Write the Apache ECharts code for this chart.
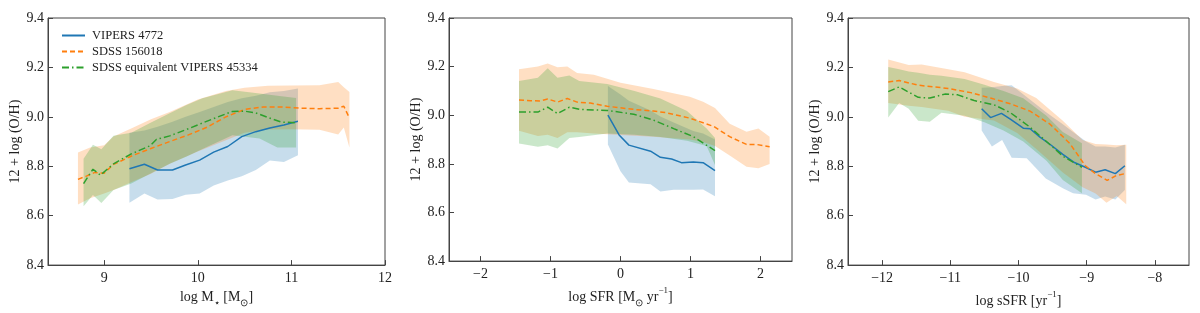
<!DOCTYPE html>
<html><head><meta charset="utf-8">
<script src="https://cdn.jsdelivr.net/npm/echarts@6/dist/echarts.min.js"></script>
<style>html,body{margin:0;padding:0;background:#fff}#c{width:1200px;height:313px}</style>
</head><body><div id="c"></div>
<script>
// ---------- tick labels ----------
const yTicks = [8.4, 8.6, 8.8, 9.0, 9.2, 9.4];
const massTicks = [9, 10, 11, 12];
const sfrTicks = [-2, -1, 0, 1, 2];
const ssfrTicks = [-12, -11, -10, -9, -8];
const legendNames = ['VIPERS 4772', 'SDSS 156018', 'SDSS equivalent VIPERS 45334'];

// ---------- Panel 1: stellar mass ----------
const massBlueX = [9.27, 9.43, 9.57, 9.73, 9.87, 10.02, 10.17, 10.32, 10.47, 10.62, 10.77, 10.92, 11.07];
const massBlueY = [8.79, 8.808, 8.785, 8.785, 8.805, 8.825, 8.857, 8.88, 8.92, 8.94, 8.955, 8.967, 8.982];
const massBlueBandX = [9.27, 9.43, 9.57, 9.73, 9.87, 10.02, 10.17, 10.32, 10.47, 10.62, 10.77, 10.92, 11.07];
const massBlueHi = [8.936, 8.945, 8.96, 8.98, 9.0, 9.02, 9.04, 9.06, 9.075, 9.085, 9.1, 9.105, 9.115];
const massBlueLo = [8.652, 8.69, 8.665, 8.668, 8.685, 8.69, 8.722, 8.742, 8.76, 8.785, 8.823, 8.817, 8.845];

const massOrangeX = [8.72, 8.81, 8.9, 9.0, 9.1, 9.2, 9.3, 9.5, 9.7, 9.9, 10.1, 10.3, 10.5, 10.7, 10.9, 11.1, 11.3, 11.5, 11.56, 11.62];
const massOrangeY = [8.747, 8.76, 8.775, 8.772, 8.808, 8.825, 8.843, 8.872, 8.9, 8.927, 8.958, 9.0, 9.03, 9.04, 9.04, 9.035, 9.033, 9.035, 9.043, 8.995];
const massOrangeBandX = [8.72, 8.85, 9.0, 9.1, 9.3, 9.5, 9.7, 10.0, 10.3, 10.5, 10.75, 11.0, 11.3, 11.5, 11.56, 11.62];
const massOrangeHi = [8.856, 8.876, 8.885, 8.92, 8.955, 8.99, 9.02, 9.07, 9.105, 9.118, 9.126, 9.127, 9.128, 9.141, 9.12, 9.101];
const massOrangeLo = [8.645, 8.671, 8.69, 8.704, 8.737, 8.77, 8.81, 8.86, 8.905, 8.936, 8.949, 8.95, 8.948, 8.929, 8.957, 8.876];

const massGreenX = [8.78, 8.88, 8.96, 9.1, 9.29, 9.49, 9.56, 9.7, 9.88, 10.05, 10.23, 10.37, 10.5, 10.62, 10.76, 10.89, 11.05];
const massGreenY = [8.73, 8.788, 8.764, 8.81, 8.85, 8.883, 8.909, 8.923, 8.949, 8.975, 9.002, 9.022, 9.023, 9.016, 8.996, 8.979, 8.976];
const massGreenBandX = [8.78, 8.88, 8.97, 9.1, 9.29, 9.49, 9.7, 9.88, 10.05, 10.37, 10.66, 10.85, 11.05];
const massGreenHi = [8.83, 8.887, 8.869, 8.923, 8.936, 8.975, 9.015, 9.048, 9.075, 9.108, 9.094, 9.085, 9.076];
const massGreenLo = [8.638, 8.684, 8.651, 8.704, 8.73, 8.77, 8.81, 8.84, 8.87, 8.925, 8.912, 8.876, 8.876];

// ---------- Panel 2: SFR ----------
const sfrBlueX = [-0.18, -0.02, 0.12, 0.43, 0.57, 0.73, 0.87, 1.04, 1.18, 1.35];
const sfrBlueY = [9.0, 8.919, 8.877, 8.852, 8.827, 8.82, 8.805, 8.808, 8.805, 8.772];
const sfrBlueBandX = [-0.18, 0, 0.12, 0.43, 0.57, 0.76, 1.04, 1.18, 1.35];
const sfrBlueHi = [9.12, 9.085, 9.06, 9.02, 8.995, 8.97, 8.935, 8.925, 8.9];
const sfrBlueLo = [8.88, 8.77, 8.723, 8.716, 8.686, 8.693, 8.693, 8.695, 8.667];

const sfrOrangeX = [-1.45, -1.28, -1.14, -1.04, -0.9, -0.76, -0.62, -0.43, -0.19, 0.19, 0.47, 0.66, 0.99, 1.33, 1.56, 1.8, 1.94, 2.13];
const sfrOrangeY = [9.063, 9.06, 9.059, 9.067, 9.054, 9.069, 9.054, 9.05, 9.037, 9.024, 9.017, 9.01, 8.988, 8.954, 8.912, 8.88, 8.88, 8.87];
const sfrOrangeBandX = [-1.45, -1.18, -1.04, -0.9, -0.76, -0.62, -0.38, 0, 0.47, 0.99, 1.18, 1.35, 1.56, 1.8, 1.97, 2.13];
const sfrOrangeHi = [9.189, 9.2, 9.213, 9.197, 9.2, 9.174, 9.167, 9.134, 9.108, 9.076, 9.056, 9.03, 8.965, 8.932, 8.945, 8.912];
const sfrOrangeLo = [8.936, 8.915, 8.92, 8.906, 8.93, 8.93, 8.925, 8.919, 8.912, 8.9, 8.89, 8.873, 8.834, 8.788, 8.782, 8.799];

const sfrGreenX = [-1.45, -1.18, -1.04, -0.9, -0.73, -0.57, -0.19, 0.19, 0.47, 0.76, 1.04, 1.35];
const sfrGreenY = [9.013, 9.013, 9.033, 9.007, 9.033, 9.024, 9.02, 9.004, 8.98, 8.945, 8.912, 8.854];
const sfrGreenBandX = [-1.45, -1.18, -1.04, -0.9, -0.73, -0.59, -0.19, 0.2, 0.57, 0.95, 1.23, 1.35];
const sfrGreenHi = [9.141, 9.154, 9.193, 9.154, 9.163, 9.141, 9.128, 9.1, 9.069, 9.017, 8.945, 8.906];
const sfrGreenLo = [8.884, 8.87, 8.877, 8.863, 8.906, 8.91, 8.925, 8.92, 8.91, 8.895, 8.873, 8.795];

// ---------- Panel 3: sSFR ----------
const ssfrBlueX = [-10.54, -10.41, -10.25, -10.12, -9.93, -9.83, -9.69, -9.52, -9.35, -9.18, -9.02, -8.87, -8.73, -8.58, -8.44];
const ssfrBlueY = [9.033, 8.997, 9.014, 8.991, 8.954, 8.952, 8.919, 8.885, 8.848, 8.815, 8.796, 8.776, 8.786, 8.77, 8.802];
const ssfrBlueBandX = [-10.54, -10.39, -10.24, -10.1, -9.88, -9.6, -9.35, -9.2, -9.01, -8.87, -8.73, -8.58, -8.44];
const ssfrBlueHi = [9.118, 9.12, 9.125, 9.128, 9.08, 9.02, 8.97, 8.939, 8.9, 8.88, 8.88, 8.876, 8.887];
const ssfrBlueLo = [8.945, 8.88, 8.906, 8.834, 8.832, 8.75, 8.711, 8.691, 8.685, 8.665, 8.678, 8.665, 8.704];

const ssfrOrangeX = [-11.91, -11.75, -11.47, -11.03, -10.7, -10.41, -10.12, -9.83, -9.54, -9.25, -9.02, -8.87, -8.7, -8.56, -8.44];
const ssfrOrangeY = [9.141, 9.147, 9.128, 9.115, 9.098, 9.076, 9.053, 9.023, 8.971, 8.893, 8.802, 8.77, 8.743, 8.763, 8.77];
const ssfrOrangeBandX = [-11.91, -11.61, -11.42, -11.03, -10.79, -10.36, -10.02, -9.74, -9.35, -9.06, -8.87, -8.71, -8.56, -8.42];
const ssfrOrangeHi = [9.232, 9.21, 9.212, 9.193, 9.18, 9.141, 9.115, 9.076, 8.984, 8.906, 8.89, 8.888, 8.885, 8.887];
const ssfrOrangeLo = [9.056, 9.045, 9.04, 9.025, 9.0, 8.985, 8.935, 8.87, 8.775, 8.715, 8.69, 8.652, 8.68, 8.646];

const ssfrGreenX = [-11.91, -11.75, -11.47, -11.3, -11.08, -10.89, -10.65, -10.36, -10.12, -9.83, -9.59, -9.35, -9.07];
const ssfrGreenY = [9.102, 9.121, 9.079, 9.076, 9.092, 9.089, 9.066, 9.049, 9.017, 8.958, 8.9, 8.841, 8.796];
const ssfrGreenBandX = [-11.91, -11.75, -11.61, -11.47, -11.3, -11.13, -10.79, -10.5, -10.22, -9.93, -9.59, -9.35, -9.07];
const ssfrGreenHi = [9.202, 9.193, 9.183, 9.178, 9.17, 9.166, 9.153, 9.13, 9.105, 9.075, 9.004, 8.939, 8.893];
const ssfrGreenLo = [8.997, 9.056, 9.033, 8.984, 8.98, 9.017, 9.004, 8.978, 8.945, 8.9, 8.822, 8.744, 8.691];

// ---------- styling ----------
const FONT = 'Liberation Serif';
const TXT = '#222';
const C_BLUE = '#1f77b4', C_ORANGE = '#ff7f0e', C_GREEN = '#2ca02c';
const F_BLUE = 'rgba(31,119,180,0.25)', F_ORANGE = 'rgba(255,127,14,0.25)', F_GREEN = 'rgba(44,160,44,0.25)';
const DASH = [5, 3];
const DASHDOT = [7, 3, 1.5, 3];

const fmtNum = v => (v < 0 ? '\u2212' + Math.abs(v) : String(v));

function band(idx, xs, lo, hi, fill) {
  return {
    type: 'custom', xAxisIndex: idx, yAxisIndex: idx, silent: true, z: 1,
    data: xs.map((x, i) => [x, lo[i], hi[i]]),
    encode: { x: 0, y: [1, 2] },
    renderItem: function (params, api) {
      if (params.dataIndex !== 0) return null;
      const pts = [];
      for (let i = 0; i < xs.length; i++) pts.push(api.coord([xs[i], hi[i]]));
      for (let i = xs.length - 1; i >= 0; i--) pts.push(api.coord([xs[i], lo[i]]));
      return { type: 'polygon', shape: { points: pts }, style: { fill: fill } };
    }
  };
}
function line(idx, name, xs, ys, color, type) {
  return {
    type: 'line', name: name, xAxisIndex: idx, yAxisIndex: idx, z: 5,
    data: xs.map((x, i) => [x, ys[i]]),
    symbol: 'none', showSymbol: false, smooth: false,
    lineStyle: { color: color, width: 1.5, type: type },
    itemStyle: { color: color }
  };
}

const grids = [
  { left: 48, top: 18, width: 337, height: 252 },
  { left: 449, top: 18, width: 343, height: 252 },
  { left: 848, top: 18, width: 341, height: 252 }
].map(g => Object.assign(g, { show: true, borderColor: '#444', borderWidth: 1, backgroundColor: 'transparent', containLabel: false }));

const richBase = {
  n: { fontFamily: FONT, fontSize: 14, color: TXT, lineHeight: 16 },
  s: { fontFamily: FONT, fontSize: 10, color: TXT, verticalAlign: 'bottom', lineHeight: 10, padding: [0, 0, -3, 0] },
  p: { fontFamily: FONT, fontSize: 9, color: TXT, verticalAlign: 'top', lineHeight: 10, padding: [-3, 0, 0, 0] }
};

function xAxis(idx, min, max, ticks, name) {
  return {
    type: 'value', gridIndex: idx, min: min, max: max,
    name: name, nameLocation: 'middle', nameGap: 13,
    nameTextStyle: { fontFamily: FONT, fontSize: 14, color: TXT, rich: richBase },
    axisLine: { show: true, onZero: false, lineStyle: { color: '#444', width: 1 } },
    axisTick: { show: true, inside: true, length: 5, customValues: ticks, lineStyle: { color: '#444' } },
    axisLabel: { customValues: ticks, margin: 6, fontFamily: FONT, fontSize: 14, color: TXT, formatter: fmtNum },
    splitLine: { show: false }
  };
}
function yAxis(idx) {
  return {
    type: 'value', gridIndex: idx, min: 8.4, max: 9.4,
    name: '12 + log (O/H)', nameLocation: 'middle', nameGap: 26, nameRotate: 90,
    nameTextStyle: { fontFamily: FONT, fontSize: 14, color: TXT },
    axisLine: { show: true, onZero: false, lineStyle: { color: '#444', width: 1 } },
    axisTick: { show: true, inside: true, length: 5, customValues: yTicks, lineStyle: { color: '#444' } },
    axisLabel: { customValues: yTicks, margin: 4, fontFamily: FONT, fontSize: 14, color: TXT, formatter: v => v.toFixed(1) },
    splitLine: { show: false }
  };
}

const option = {
  animation: false,
  backgroundColor: '#fff',
  grid: grids,
  xAxis: [
    xAxis(0, 8.4, 12, massTicks, '{n|log M}{s|\u22C6}{n| [M}{s|\u2299}{n|]}'),
    xAxis(1, -2.45, 2.45, sfrTicks, '{n|log SFR [M}{s|\u2299}{n| yr}{p|\u22121}{n|]}'),
    xAxis(2, -12.5, -7.5, ssfrTicks, '{n|log sSFR [yr}{p|\u22121}{n|]}')
  ],
  yAxis: [yAxis(0), yAxis(1), yAxis(2)],
  legend: {
    data: legendNames, orient: 'vertical', left: 56, top: 24,
    itemWidth: 23, itemHeight: 10, itemGap: 3,
    itemStyle: { opacity: 0 },
    textStyle: { fontFamily: FONT, fontSize: 12.5, color: TXT, padding: [0, 0, 0, 2] },
    selectedMode: false
  },
  series: [
    band(0, massBlueBandX, massBlueLo, massBlueHi, F_BLUE),
    band(0, massOrangeBandX, massOrangeLo, massOrangeHi, F_ORANGE),
    band(0, massGreenBandX, massGreenLo, massGreenHi, F_GREEN),
    line(0, legendNames[0], massBlueX, massBlueY, C_BLUE, 'solid'),
    line(0, legendNames[1], massOrangeX, massOrangeY, C_ORANGE, DASH),
    line(0, legendNames[2], massGreenX, massGreenY, C_GREEN, DASHDOT),

    band(1, sfrBlueBandX, sfrBlueLo, sfrBlueHi, F_BLUE),
    band(1, sfrOrangeBandX, sfrOrangeLo, sfrOrangeHi, F_ORANGE),
    band(1, sfrGreenBandX, sfrGreenLo, sfrGreenHi, F_GREEN),
    line(1, legendNames[0], sfrBlueX, sfrBlueY, C_BLUE, 'solid'),
    line(1, legendNames[1], sfrOrangeX, sfrOrangeY, C_ORANGE, DASH),
    line(1, legendNames[2], sfrGreenX, sfrGreenY, C_GREEN, DASHDOT),

    band(2, ssfrBlueBandX, ssfrBlueLo, ssfrBlueHi, F_BLUE),
    band(2, ssfrOrangeBandX, ssfrOrangeLo, ssfrOrangeHi, F_ORANGE),
    band(2, ssfrGreenBandX, ssfrGreenLo, ssfrGreenHi, F_GREEN),
    line(2, legendNames[0], ssfrBlueX, ssfrBlueY, C_BLUE, 'solid'),
    line(2, legendNames[1], ssfrOrangeX, ssfrOrangeY, C_ORANGE, DASH),
    line(2, legendNames[2], ssfrGreenX, ssfrGreenY, C_GREEN, DASHDOT)
  ]
};
const chart = echarts.init(document.getElementById('c'), null, { renderer: 'canvas' });
chart.setOption(option);
</script>
</body></html>
